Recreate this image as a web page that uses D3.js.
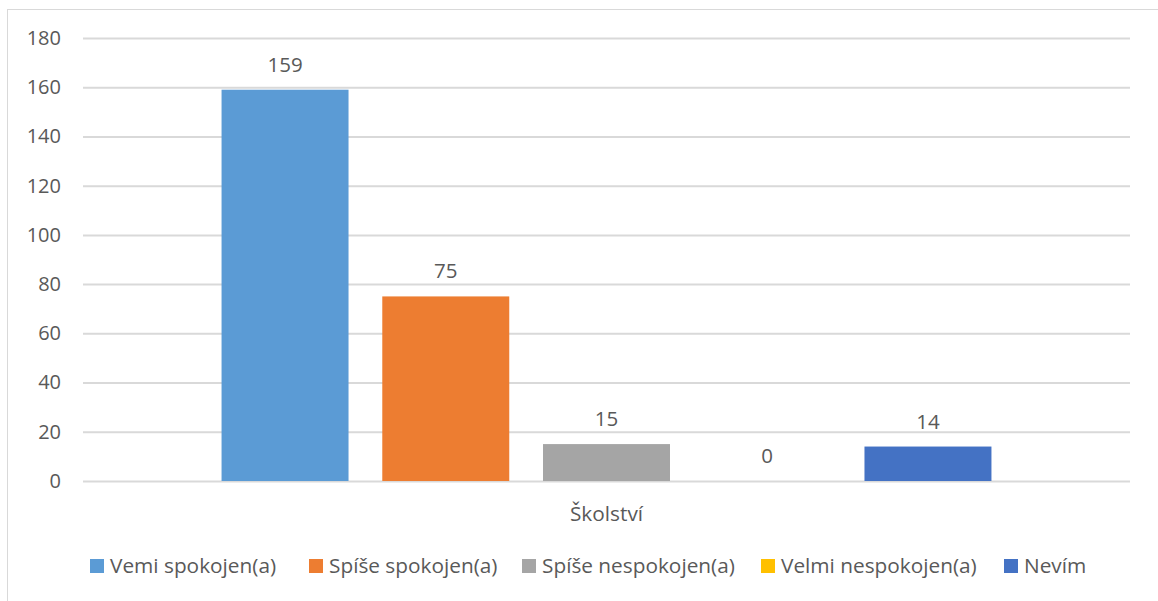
<!DOCTYPE html>
<html>
<head>
<meta charset="utf-8">
<script src="https://cdn.jsdelivr.net/npm/d3@7"></script>
<style>
  body { margin: 0; background: #fff; }
  text { font-family: "Open Sans", "Liberation Sans", sans-serif; fill: #595959; }
</style>
</head>
<body>
<div id="vis"></div>
<script>
// data
const categories = ["Školství"];
const seriesNames = ["Vemi spokojen(a)", "Spíše spokojen(a)", "Spíše nespokojen(a)", "Velmi nespokojen(a)", "Nevím"];
const seriesValues = [159, 75, 15, 0, 14];
const seriesColors = ["#5B9BD5", "#ED7D31", "#A5A5A5", "#FFC000", "#4472C4"];
const yTicks = [0, 20, 40, 60, 80, 100, 120, 140, 160, 180];

const WIDTH = 1158;
const HEIGHT = 601;
const MARGIN = { top: 38, bottom: 120, left: 83, right: 28 };

const svg = d3.select("#vis").append("svg")
  .attr("width", WIDTH).attr("height", HEIGHT);

// chart border
svg.append("rect")
  .attr("x", 7.5).attr("y", 9.5)
  .attr("width", WIDTH).attr("height", HEIGHT)
  .attr("fill", "none").attr("stroke", "#D9D9D9");

const plotW = WIDTH - MARGIN.left - MARGIN.right;
const plotH = HEIGHT - MARGIN.top - MARGIN.bottom;
const g = svg.append("g").attr("transform", `translate(${MARGIN.left},${MARGIN.top})`);

const y = d3.scaleLinear().domain([0, 180]).range([plotH, 0]);
const xCat = d3.scaleBand().domain(categories).range([0, plotW]);
const xSer = d3.scaleBand().domain(seriesNames)
  .range([0, xCat.bandwidth()])
  .paddingInner(0.21).paddingOuter(0.862);

// grid + y labels
const yAxis = d3.axisLeft(y).tickValues(yTicks).tickSize(-plotW).tickPadding(22);
const ax = g.append("g").call(yAxis);
ax.select(".domain").remove();
ax.selectAll("line").attr("stroke", "#D9D9D9").attr("stroke-width", 2);
ax.selectAll("text").attr("font-size", 20).attr("fill", "#595959")
  .attr("font-family", "'Open Sans', sans-serif");

// bars
const cat = g.append("g").attr("transform", `translate(${xCat(categories[0])},0)`);
const rows = seriesNames.map((n, i) => ({ name: n, value: seriesValues[i], color: seriesColors[i] }));
cat.selectAll("rect.bar").data(rows).join("rect")
  .attr("class", "bar")
  .attr("x", d => xSer(d.name))
  .attr("y", d => y(d.value))
  .attr("width", xSer.bandwidth())
  .attr("height", d => y(0) - y(d.value))
  .attr("fill", d => d.color);

cat.selectAll("text.val").data(rows).join("text")
  .attr("class", "val")
  .attr("x", d => xSer(d.name) + xSer.bandwidth() / 2)
  .attr("y", d => y(d.value) - 18)
  .attr("text-anchor", "middle")
  .attr("font-size", 20.5)
  .text(d => d.value);

// category label
g.append("text")
  .attr("x", xCat(categories[0]) + xCat.bandwidth() / 2)
  .attr("y", plotH + 40)
  .attr("text-anchor", "middle")
  .attr("font-size", 20.8)
  .text(categories[0]);

// legend
const legend = svg.append("g").attr("transform", "translate(0,566)");
const legX = [90, 309, 522, 761, 1004];
const item = legend.selectAll("g").data(rows).join("g")
  .attr("transform", (d, i) => `translate(${legX[i]},0)`);
item.append("rect").attr("x", 0).attr("y", -7).attr("width", 14).attr("height", 14)
  .attr("fill", d => d.color);
item.append("text").attr("x", 20).attr("y", 7).attr("font-size", 20.8).text(d => d.name);
</script>
</body>
</html>
